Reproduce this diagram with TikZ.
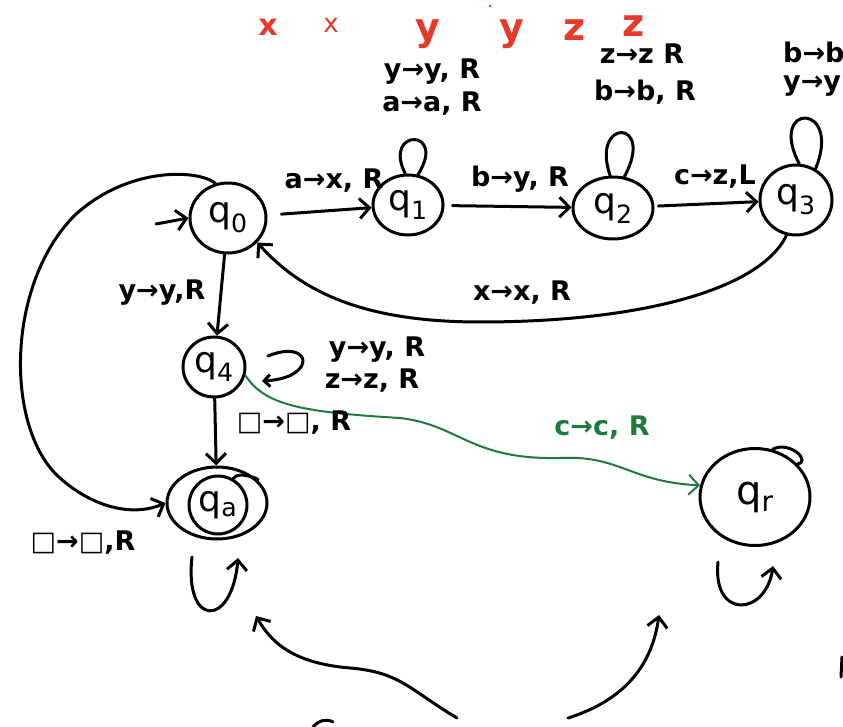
\documentclass[tikz,border=0pt]{standalone}
\usepackage{fontspec}
\setmainfont{DejaVu Sans}
\usetikzlibrary{arrows.meta,shapes.geometric}
\definecolor{redink}{HTML}{E8382A}
\definecolor{greenink}{HTML}{1E7B3C}
\begin{document}
\begin{tikzpicture}[x=1pt,y=-1pt,
  ink/.style={line width=3pt,line cap=round,line join=round},
  st/.style={ellipse,draw,ink,inner sep=0pt,font=\fontsize{36pt}{38pt}\selectfont},
  arr/.style={ink,-{Straight Barb[length=10pt,width=20pt,line width=3pt]}},
  garr/.style={line width=2pt,line cap=round,draw=greenink,-{Straight Barb[length=10pt,width=20pt,line width=2pt]}},
  lbl/.style={font=\fontsize{27pt}{29pt}\selectfont\bfseries,inner sep=0pt},
  redl/.style={text=redink,font=\fontsize{38pt}{40pt}\selectfont\bfseries,inner sep=0pt}]
\useasboundingbox (0,0) rectangle (843,727);

% red tape symbols
\node[redl,font=\fontsize{30pt}{32pt}\selectfont\bfseries] (r1) at (268,27) {x};
\node[redl,font=\fontsize{26pt}{28pt}\selectfont] (r2) at (331,25) {x};
\node[redl] (r3) at (428,34) {y};
\node[redl] (r4) at (512,34) {y};
\node[redl] (r5) at (575,30) {z};
\node[redl] (r6) at (634,26) {z};
\fill[redink] (490,6) circle (1.5);

% states
\node[st,minimum width=76pt,minimum height=70pt] (q0) at (228,218) {q\textsubscript{0}};
\node[st,minimum width=70pt,minimum height=60pt] (q1) at (408,205) {q\textsubscript{1}};
\node[st,minimum width=80pt,minimum height=62pt] (q2) at (613,208) {q\textsubscript{2}};
\node[st,minimum width=72pt,minimum height=70pt] (q3) at (796,200) {q\textsubscript{3}};
\node[st,minimum width=62pt,minimum height=60pt] (q4) at (214,367) {q\textsubscript{4}};
\node[st,minimum width=58pt,minimum height=58pt] (qa) at (218,505) {q\textsubscript{a}};
\node[ellipse,draw,ink,minimum width=100pt,minimum height=72pt] (qaout) at (217,503) {};
\node[st,minimum width=110pt,minimum height=97pt,font=\fontsize{40pt}{42pt}\selectfont] (qr) at (755,497) {q\textsubscript{r}};

% start arrow
\coordinate (s0) at (156,224);
\draw[arr] (s0) -- (q0.west);

% main chain
\draw[arr,shorten <=14pt] (q0) -- (q1);
\draw[arr,shorten <=8pt] (q1) -- (q2);
\draw[arr,shorten <=4pt] (q2) -- (q3);
\draw[arr] (q0) -- (q4);
\draw[arr] (q4) -- (qaout);

% q3 back to q0
\draw[arr] (q3.255) .. controls (760,290) and (640,322) .. (480,322)
  .. controls (360,322) and (300,290) .. (q0.-40);

% big left curve q0 -> qa
\draw[arr] (q0.110) .. controls (200,170) and (130,165) .. (75,215)
  .. controls (5,285) and (5,430) .. (60,478)
  .. controls (90,505) and (130,518) .. (qaout.west);

% green q4 -> qr
\draw[garr] (q4.-15) .. controls (265,405) and (300,412) .. (400,418)
  .. controls (460,425) and (470,460) .. (560,458)
  .. controls (620,455) and (630,482) .. (qr.168);

% self loops
\draw[ink] (q1.95) .. controls (382,128) and (448,128) .. (q1.72);
\draw[ink] (q2.95) .. controls (590,118) and (656,118) .. (q2.70);
\draw[ink] (q3.85) .. controls (767,102) and (843,102) .. (q3.58);
\draw[ink] (qa.60) .. controls (238,470) and (262,480) .. (qaout.30);
\draw[ink] (qr.70) .. controls (790,440) and (812,462) .. (qr.38);

% q4 loop
\coordinate (l4a) at (268,356);
\coordinate (l4b) at (262,381);
\draw[ink,-{Straight Barb[length=6pt,width=12pt,line width=3pt]}] (l4a) .. controls (312,338) and (318,378) .. (l4b);

% U loops below qa and qr
\coordinate (ua1) at (192,557);
\coordinate (ua2) at (238,558);
\draw[arr] (ua1) .. controls (184,628) and (232,628) .. (ua2);
\coordinate (ur1) at (718,562);
\coordinate (ur2) at (773,566);
\draw[arr] (ur1) .. controls (712,620) and (766,616) .. (ur2);

% bottom arrows
\coordinate (b1s) at (457,718);
\coordinate (b1e) at (256,616);
\draw[arr] (b1s) .. controls (410,690) and (400,672) .. (350,668)
  .. controls (290,663) and (270,640) .. (b1e);
\coordinate (b2s) at (568,718);
\coordinate (b2e) at (659,615);
\draw[arr] (b2s) .. controls (625,700) and (652,665) .. (b2e);
\coordinate (c1) at (313,727);
\coordinate (c2) at (333,722);
\draw[ink] (c1) .. controls (318,721) and (326,718) .. (c2);
\coordinate (m1) at (842,657);
\coordinate (m2) at (841,677);
\draw[ink] (m1) -- (m2);

% labels
\node[lbl] (t1) at (432,72) {y→y, R};
\node[lbl] (t2) at (432,104) {a→a, R};
\node[lbl] (t3) at (642,54) {z→z R};
\node[lbl] (t4) at (645,92) {b→b, R};
\node[lbl,anchor=west] (t5) at (783,52) {b→b};
\node[lbl,anchor=west] (t6) at (783,86) {y→y};
\node[lbl] (t7) at (334,181) {a→x, R};
\node[lbl] (t8) at (520,179) {b→y, R};
\node[lbl] (t9) at (715,177) {c→z,L};
\node[lbl] (t10) at (162,293) {y→y,R};
\node[lbl] (t11) at (522,293) {x→x, R};
\node[lbl] (t12) at (377,350) {y→y, R};
\node[lbl] (t13) at (372,381) {z→z, R};
\node[lbl] (t14) at (294,423) {□→□, R};
\node[lbl,text=greenink] (t15) at (602,428) {c→c, R};
\node[lbl] (t16) at (83,543) {□→□,R};
\end{tikzpicture}
\end{document}
